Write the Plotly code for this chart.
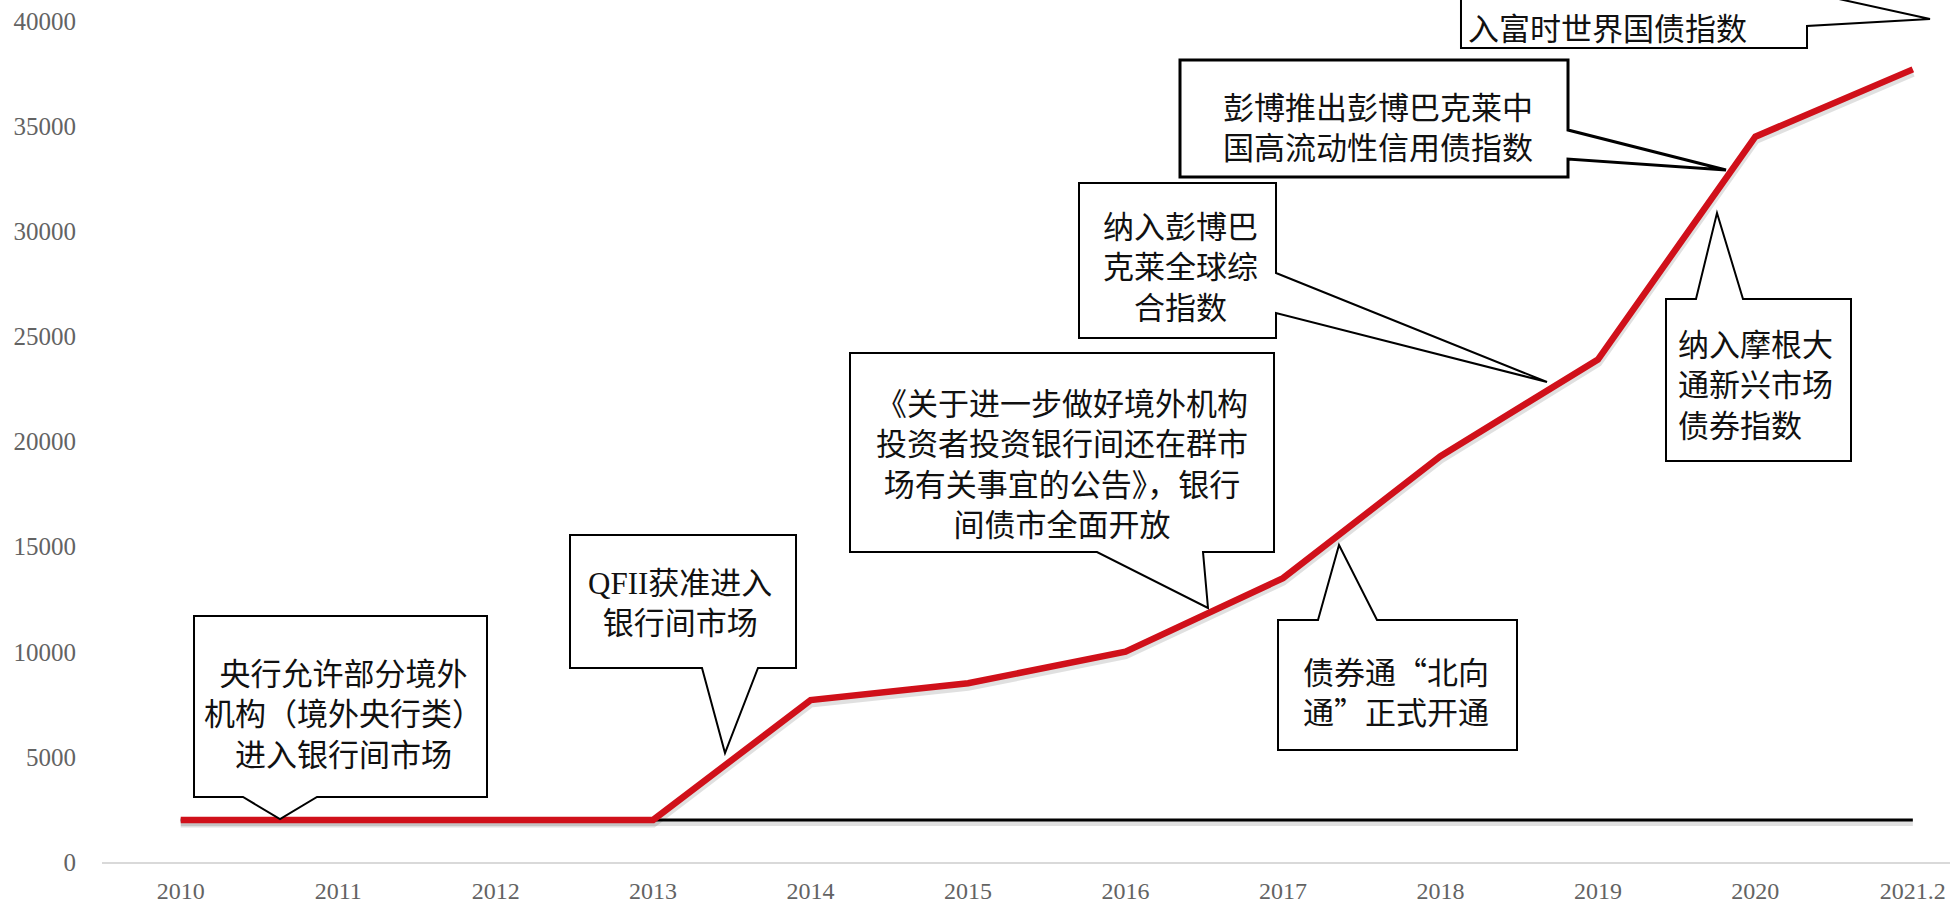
import plotly.graph_objects as go

# ---- data -------------------------------------------------------------
periods = ["2010", "2011", "2012", "2013", "2014", "2015", "2016",
           "2017", "2018", "2019", "2020", "2021.2"]
holdings = [2000, 2000, 2000, 2000, 7700, 8500, 10000,
            13500, 19300, 23900, 34500, 37700]
reference_level = [2000, 2000, 2000, 2000, 2000, 2000, 2000,
                   2000, 2000, 2000, 2000, 2000]
y_ticks = [0, 5000, 10000, 15000, 20000, 25000, 30000, 35000, 40000]

# ---- canvas / axis geometry -----------------------------------------
W, H = 1950, 902
M_L, M_B = 102, 40
PLOT_W, PLOT_H = W - M_L, H - M_B
X_RANGE = (-0.5, 11.236)
Y_RANGE = (0, 41000)

idx = list(range(len(periods)))


def px_x(px):
    """canvas pixel -> x data coordinate"""
    return X_RANGE[0] + (px - M_L) * (X_RANGE[1] - X_RANGE[0]) / PLOT_W


def px_y(py):
    """canvas pixel -> y data coordinate"""
    return Y_RANGE[0] + (PLOT_H - py) * (Y_RANGE[1] - Y_RANGE[0]) / PLOT_H


def outline(points):
    pts = [f"{px_x(x):.4f},{px_y(y):.2f}" for x, y in points]
    return "M " + " L ".join(pts) + " Z"


# ---- callouts: outline polygon (canvas px), text, text anchor ----------
callouts = [
    dict(poly=[(194, 616), (487, 616), (487, 797), (317, 797), (280, 819),
               (243, 797), (194, 797)],
         text="央行允许部分境外<br>机构（境外央行类）<br>进入银行间市场",
         pos=(343, 712), anchor="center", lw=2),
    dict(poly=[(570, 535), (796, 535), (796, 668), (758, 668), (725, 753),
               (702, 668), (570, 668)],
         text="<span style='font-family:Liberation Serif'>QFII</span>"
              "获准进入<br>银行间市场",
         pos=(680, 600), anchor="center", lw=2),
    dict(poly=[(850, 353), (1274, 353), (1274, 552), (1203, 552), (1208, 608),
               (1097, 552), (850, 552)],
         text="《关于进一步做好境外机构<br>投资者投资银行间还在群市<br>"
              "场有关事宜的公告》，银行<br>间债市全面开放",
         pos=(1062, 462), anchor="center", lw=2),
    dict(poly=[(1079, 183), (1276, 183), (1276, 273), (1547, 382), (1276, 313),
               (1276, 338), (1079, 338)],
         text="纳入彭博巴<br>克莱全球综<br>合指数",
         pos=(1180, 265), anchor="center", lw=2),
    dict(poly=[(1180, 60), (1568, 60), (1568, 130), (1726, 170), (1568, 159),
               (1568, 177), (1180, 177)],
         text="彭博推出彭博巴克莱中<br>国高流动性信用债指数",
         pos=(1378, 125), anchor="center", lw=3),
    dict(poly=[(1666, 299), (1696, 299), (1717, 213), (1743, 299), (1851, 299),
               (1851, 461), (1666, 461)],
         text="纳入摩根大<br>通新兴市场<br>债券指数",
         pos=(1676, 383), anchor="left", lw=2),
    dict(poly=[(1278, 620), (1318, 620), (1339, 545), (1377, 620), (1517, 620),
               (1517, 750), (1278, 750)],
         text="债券通“北向<br>通”正式开通",
         pos=(1396, 690), anchor="center", lw=2),
    dict(poly=[(1461, -60), (1807, -60), (1807, -8), (1930, 19), (1807, 26),
               (1807, 48), (1461, 48)],
         text="入富时世界国债指数",
         pos=(1466, 26), anchor="left", lw=2),
]

fig = go.Figure()

# soft drop shadows under both lines
shadow_shift = 3 * (Y_RANGE[1] - Y_RANGE[0]) / PLOT_H
fig.add_trace(go.Scatter(x=idx, y=[v - shadow_shift for v in reference_level],
                         mode="lines", hoverinfo="skip", showlegend=False,
                         line=dict(color="rgba(0,0,0,0.12)", width=6)))
fig.add_trace(go.Scatter(x=idx, y=[v - shadow_shift for v in holdings],
                         mode="lines", hoverinfo="skip", showlegend=False,
                         line=dict(color="rgba(0,0,0,0.12)", width=9)))

fig.add_trace(go.Scatter(x=idx, y=reference_level, mode="lines",
                         showlegend=False,
                         line=dict(color="#000000", width=3)))
fig.add_trace(go.Scatter(x=idx, y=holdings, mode="lines", showlegend=False,
                         line=dict(color="#D0101A", width=6.5)))

shapes, annotations = [], []
for c in callouts:
    shapes.append(dict(type="path", xref="x", yref="y", path=outline(c["poly"]),
                       fillcolor="white", line=dict(color="#000000", width=c["lw"]),
                       layer="above"))
    annotations.append(dict(x=px_x(c["pos"][0]), y=px_y(c["pos"][1]),
                            xref="x", yref="y", text=c["text"], showarrow=False,
                            xanchor=c["anchor"], yanchor="middle",
                            align=c["anchor"],
                            font=dict(family="Noto Sans CJK SC", size=31,
                                      color="#111111")))

fig.update_layout(
    width=W, height=H,
    margin=dict(l=M_L, r=0, t=0, b=M_B, pad=0, autoexpand=False),
    paper_bgcolor="white", plot_bgcolor="white",
    shapes=shapes, annotations=annotations,
    xaxis=dict(range=list(X_RANGE), tickvals=idx, ticktext=periods,
               automargin=False,
               showgrid=False, zeroline=False, showline=True,
               linecolor="#D9D9D9", linewidth=2,
               ticks="outside", ticklen=6, tickcolor="rgba(0,0,0,0)",
               tickfont=dict(family="Liberation Serif", size=24, color="#636363")),
    yaxis=dict(range=list(Y_RANGE), tickvals=y_ticks,
               ticktext=[str(v) for v in y_ticks],
               automargin=False,
               showgrid=False, zeroline=False, showline=False,
               ticks="outside", ticklen=20, tickcolor="rgba(0,0,0,0)",
               tickfont=dict(family="Liberation Serif", size=25, color="#636363")),
)

fig.write_html("out.html")
